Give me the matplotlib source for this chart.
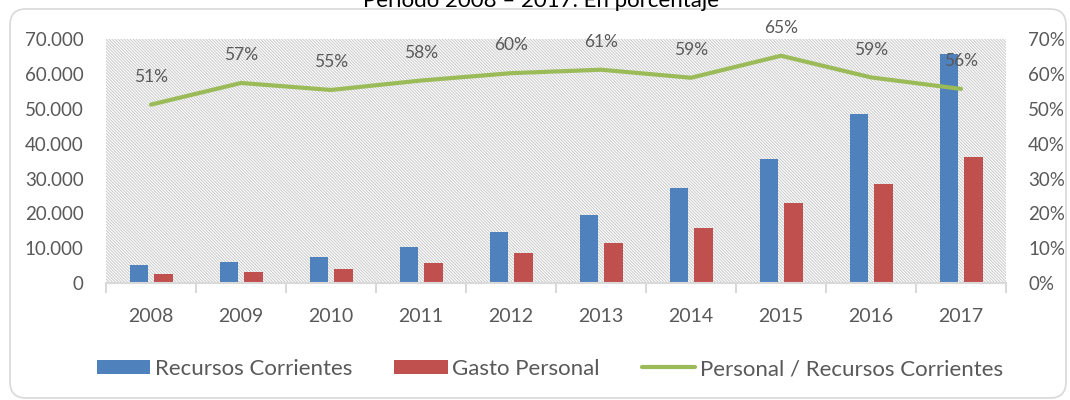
import matplotlib
matplotlib.use('Agg')
import matplotlib.pyplot as plt
from matplotlib.patches import Rectangle, FancyBboxPatch
from matplotlib.ticker import FuncFormatter, FixedLocator
import numpy as np

# Chart data
years = ['2008', '2009', '2010', '2011', '2012', '2013', '2014', '2015', '2016', '2017']
recursos = [5340, 6090, 7520, 10370, 14660, 19430, 27230, 35620, 48600, 65700]
gasto = [2570, 3140, 4000, 5900, 8570, 11520, 15900, 23140, 28380, 36280]
ratio = [0.512, 0.574, 0.554, 0.581, 0.602, 0.612, 0.589, 0.652, 0.590, 0.557]

title = 'Periodo 2008 \u2013 2017. En porcentaje'
blue = '#4F81BD'
red = '#C0504D'
green = '#9BBB59'
txt = '#595959'

plt.rcParams['font.family'] = ['Lato', 'DejaVu Sans']
plt.rcParams['hatch.linewidth'] = 0.7
plt.rcParams['hatch.color'] = '#c8c8c8'

fig = plt.figure(figsize=(10.7, 4.0), dpi=100)

# background layer in pixel coordinates for the frame and the title
bg = fig.add_axes([0, 0, 1, 1], zorder=-5)
bg.set_xlim(0, 1070)
bg.set_ylim(400, 0)
bg.axis('off')
bg.add_patch(FancyBboxPatch((10, 9), 1056, 389, boxstyle='round,pad=0,rounding_size=16',
                            facecolor='white', edgecolor='#d9d9d9', linewidth=1.2))
# title is cut at the top edge, as in the source image
bg.text(541, 7, title, ha='center', va='baseline', fontsize=16, color='#000000')

ax = fig.add_axes([106 / 1070, 1 - 283.3 / 400, 900 / 1070, (283.3 - 39) / 400])
ax.patch.set_alpha(0)
ax.add_patch(Rectangle((0, 0), 1, 1, transform=ax.transAxes, facecolor='white',
                       hatch='\\' * 11, edgecolor='#c8c8c8', linewidth=0, zorder=0))

x = np.arange(len(years))
w = 0.21
b1 = ax.bar(x - 0.133, recursos, w, color=blue, zorder=2, label='Recursos Corrientes')
b2 = ax.bar(x + 0.135, gasto, w, color=red, zorder=2, label='Gasto Personal')

ax.set_xlim(-0.5, len(years) - 0.5)
ax.set_ylim(0, 70000)
ax.set_yticks(np.arange(0, 70001, 10000))
ax.yaxis.set_major_formatter(FuncFormatter(lambda v, p: f'{int(v):,}'.replace(',', '.')))
ax.set_xticks(x)
ax.set_xticklabels(years)
ax.xaxis.set_minor_locator(FixedLocator(np.arange(-0.5, len(years), 1.0)))
ax.tick_params(axis='x', which='major', length=0, pad=18, labelsize=14, labelcolor=txt)
ax.tick_params(axis='x', which='minor', length=7, color='#d9d9d9', width=1.5)
ax.tick_params(axis='y', length=0, pad=16, labelsize=13.5, labelcolor=txt)
for s in ['top', 'left', 'right']:
    ax.spines[s].set_visible(False)
ax.spines['bottom'].set_color('#d9d9d9')
ax.spines['bottom'].set_linewidth(1.5)

ax2 = ax.twinx()
ln, = ax2.plot(x, ratio, color=green, linewidth=3, solid_capstyle='round',
               label='Personal / Recursos Corrientes')
ax2.set_ylim(0, 0.7)
ax2.set_yticks(np.arange(0, 0.71, 0.1))
ax2.yaxis.set_major_formatter(FuncFormatter(lambda v, p: f'{v:.0%}'))
ax2.tick_params(axis='y', length=0, pad=16, labelsize=13.5, labelcolor=txt)
for s in ['top', 'left', 'right', 'bottom']:
    ax2.spines[s].set_visible(False)

for xi, r in zip(x, ratio):
    ax2.annotate(f'{r:.0%}', (xi, r), xytext=(0, 20), textcoords='offset points',
                 ha='center', va='center', fontsize=12.5, color=txt)

fig.legend([b1, b2, ln], ['Recursos Corrientes', 'Gasto Personal', 'Personal / Recursos Corrientes'],
           loc='center', bbox_to_anchor=(550 / 1070, 1 - 369 / 400), ncol=3, frameon=False,
           fontsize=16, labelcolor=txt, handlelength=2.4, handleheight=0.62,
           handletextpad=0.2, columnspacing=1.9)

fig.savefig('out.png', dpi=100)
